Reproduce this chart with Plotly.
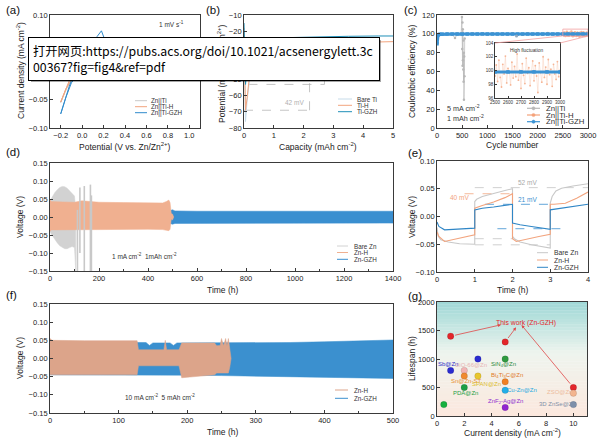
import plotly.graph_objects as go

W, H = 605, 444
FONT = "Liberation Sans, Arial, sans-serif"


def px(x):
    return x / W


def py(y):
    return 1 - y / H


# ---------------- (a) CV ----------------
a_pot = [0.6, 0.3, 0.1, 0.0, -0.05, -0.1, -0.15, -0.2, -0.16, -0.12, -0.08, -0.04,
         0.0, 0.05, 0.1, 0.14, 0.18, 0.22, 0.26, 0.3, 0.4, 0.6]
a_cur_ti = [0.0, 0.0, -0.001, -0.002, -0.006, -0.016, -0.032, -0.055, -0.036, -0.018, -0.004, 0.008,
            0.018, 0.028, 0.038, 0.045, 0.048, 0.036, 0.014, 0.003, 0.0, 0.0]
a_cur_h = [0.0, 0.0, -0.001, -0.002, -0.006, -0.015, -0.030, -0.054, -0.034, -0.016, -0.003, 0.009,
           0.020, 0.031, 0.041, 0.050, 0.054, 0.040, 0.015, 0.003, 0.0, 0.0]
a_cur_gzh = [0.0, 0.0, -0.001, -0.003, -0.008, -0.020, -0.045, -0.075, -0.050, -0.026, -0.007, 0.010,
             0.024, 0.038, 0.050, 0.062, 0.072, 0.052, 0.018, 0.004, 0.0, 0.0]

# ---------------- (b) nucleation ----------------
b_cap_ti = [0, 0.02, 0.05, 0.1, 0.2, 0.4, 0.8, 1.5, 2.5, 3.5]
b_pot_ti = [-20, -60, -76, -64, -48, -38, -33, -31, -30, -30]
b_cap = [0, 0.02, 0.05, 0.1, 0.2, 0.4, 0.8, 1.5, 2.5, 3.5, 4.5, 5.0]
b_pot_h = [-18, -50, -69, -62, -45, -33, -29, -28, -27.5, -27, -26.8, -26.5]
b_pot_gzh = [-15, -40, -53, -45, -33, -27, -25, -24, -23.5, -23.2, -23, -23]
b_dash_x = [[0, 2.2], [2.2, 2.2], [0.15, 2.7], [2.7, 2.7]]
b_dash_y = [[-69, -69], [-69, -27], [-53, -53], [-53, -23]]

# ---------------- (c) coulombic efficiency ----------------
c_ti_cyc = [1, 50, 100, 150, 200, 250, 300, 358, 400, 450, 480, 495, 500, 505, 508, 512,
            515, 518, 522, 525, 528, 532, 535, 540, 545, 550]
c_ti_ce = [96.0, 99.0, 99.3, 99.4, 99.5, 99.3, 99.4, 95.6, 99.2, 99.0, 100.5, 118, 84, 112, 66, 105,
           72, 101, 62, 93, 49, 80, 30, 76, 55, 95]
c_h_cyc = [1, 100, 200, 300, 400, 500, 600, 700, 800, 900, 1000, 1100, 1200, 1300, 1400, 1500,
           1600, 1700, 1800, 1900, 2000, 2100, 2200, 2300, 2400] + list(range(2500, 3001, 10))
c_h_ce = [97.5, 99.6, 100.1, 99.4, 100.3, 99.8, 99.5, 100.4, 99.7, 100.2, 99.3, 100.6, 99.6, 100.1,
          99.2, 100.5, 99.8, 99.1, 100.7, 99.4, 100.3, 99.0, 100.8, 99.5, 100.2,
          99.2, 100.8, 98.4, 101.5, 99.0, 97.6, 100.9, 99.5, 102.1, 98.2, 100.3, 99.8, 97.9,
          101.2, 98.9, 100.6, 99.1, 102.4, 98.6, 100.0, 97.4, 101.0, 99.3, 98.1, 101.8, 99.6,
          100.4, 97.8, 99.9, 101.4, 98.5, 100.7, 99.2, 96.8, 101.1, 99.7, 98.3, 102.0, 99.0,
          100.5, 98.0, 101.6, 99.4, 100.2, 97.7, 100.9, 99.5, 98.7, 101.3, 99.1, 100.0]
c_gzh_cyc = [1, 20, 50, 100, 200, 300, 400, 500, 600, 700, 800, 900, 1000, 1100, 1200, 1300,
             1400, 1500, 1600, 1700, 1800, 1900, 2000, 2100, 2200, 2300, 2400, 2500,
             2600, 2700, 2800, 2900, 3000]
c_gzh_ce = [89.5, 98.6, 99.5, 99.7, 99.8, 99.8, 99.8, 99.7, 99.8, 99.8, 99.8, 99.9, 99.8, 99.8,
            99.8, 99.8, 99.8, 99.8, 99.8, 99.8, 99.8, 99.8, 99.8, 99.8, 99.8, 99.8, 99.8,
            99.8, 99.8, 99.8, 99.8, 99.8, 99.8]
c_out_cyc = [1580]   # lone low point of Zn||Ti-GZH
c_out_ce = [97.7]

# ---------------- (d) 1 mA cm-2 symmetric cells ----------------
d_bare_t = [0, 10, 20, 30, 40, 50, 60, 70, 80, 90, 100, 105]
d_bare_up = [0.045, 0.058, 0.068, 0.076, 0.082, 0.085, 0.084, 0.080, 0.072, 0.064, 0.058, 0.02]
d_bare_lo = [-0.042, -0.052, -0.062, -0.072, -0.080, -0.085, -0.088, -0.088, -0.085, -0.082, -0.085, -0.15]
d_spike_t = [112, 122, 140, 165, 169]
d_spike_up = [0.02, 0.082, 0.086, 0.09, 0.06]
d_spike_lo = [-0.15, -0.10, -0.15, -0.15, -0.15]
d_h_t = [0, 5, 50, 100, 130, 150, 200, 300, 400, 460, 475, 485, 490, 495, 500, 505]
d_h_up = [0.048, 0.043, 0.042, 0.041, 0.045, 0.044, 0.041, 0.040, 0.039, 0.039, 0.043, 0.047, 0.040, 0.010, 0.008, 0.0]
d_h_lo = [-0.040, -0.036, -0.035, -0.034, -0.036, -0.035, -0.034, -0.034, -0.034, -0.035, -0.037, -0.038, -0.034, -0.006, -0.008, 0.0]
d_gzh_t = [0, 200, 400, 490, 500, 510, 600, 800, 1000, 1200, 1400]
d_gzh_up = [0.018, 0.017, 0.017, 0.018, 0.020, 0.017, 0.016, 0.016, 0.016, 0.016, 0.016]
d_gzh_lo = [-0.018, -0.017, -0.017, -0.018, -0.020, -0.018, -0.017, -0.017, -0.017, -0.017, -0.017]

# ---------------- (e) zoomed voltage profiles ----------------
e_bare_t = [0, 0.03, 0.1, 0.3, 0.6, 1.0, 1.0, 1.05, 1.2, 1.5, 1.8, 2.0, 2.0, 2.05, 2.2, 2.5,
            2.8, 3.0, 3.0, 3.05, 3.15, 3.3, 3.6, 4.0]
e_bare_v = [-0.02, -0.035, -0.042, -0.046, -0.049, -0.050, 0.027, 0.031, 0.036, 0.042, 0.047, 0.050,
            -0.036, -0.040, -0.046, -0.051, -0.055, -0.057, 0.024, 0.036, 0.046, 0.051, 0.055, 0.059]
e_h_t = [0, 0.05, 0.2, 0.5, 0.8, 1.0, 1.0, 1.2, 1.5, 1.8, 2.0, 2.0, 2.1, 2.4, 2.7, 3.0, 3.0, 3.1,
         3.4, 3.7, 4.0]
e_h_v = [-0.028, -0.036, -0.045, -0.040, -0.035, -0.033, 0.015, 0.020, 0.026, 0.034, 0.041, -0.040,
         -0.045, -0.040, -0.036, -0.032, 0.022, 0.022, 0.024, 0.033, 0.044]
e_gzh_t = [0, 0.05, 0.2, 0.5, 0.8, 1.0, 1.0, 1.2, 1.5, 1.8, 2.0, 2.0, 2.2, 2.5, 2.8, 3.0, 3.0, 3.3,
           3.6, 4.0]
e_gzh_v = [-0.010, -0.018, -0.024, -0.023, -0.022, -0.021, 0.012, 0.015, 0.017, 0.020, 0.022, -0.012,
           -0.015, -0.018, -0.021, -0.023, 0.012, 0.015, 0.018, 0.022]
e_dash_x0 = [1.0, 0.73, 1.27, 1.0, 1.0, 1.6]
e_dash_x1 = [4.0, 2.0, 3.0, 2.0, 3.0, 3.5]
e_dash_y = [0.052, 0.041, 0.022, -0.040, -0.051, -0.022]

# ---------------- (f) 10 mA cm-2 ----------------
f_h_t = [0, 3, 50, 100, 127, 129, 150, 166, 168, 170, 188, 192, 200, 220, 240, 243, 248, 250,
         253, 256, 258, 260, 262, 264]
f_h_up = [0.055, 0.050, 0.049, 0.049, 0.049, 0.024, 0.024, 0.024, 0.050, 0.024, 0.024, 0.043,
          0.043, 0.043, 0.043, 0.035, 0.036, 0.055, 0.035, 0.055, 0.035, 0.055, 0.020, 0.0]
f_h_lo = [-0.045, -0.045, -0.045, -0.045, -0.045, -0.020, -0.020, -0.020, -0.020, -0.020, -0.020,
          -0.053, -0.050, -0.048, -0.045, -0.040, -0.040, -0.040, -0.040, -0.040, -0.040, -0.040,
          -0.025, 0.0]
f_gzh_t = [0, 50, 100, 128, 140, 145, 150, 175, 180, 185, 200, 250, 300, 350, 400, 450, 500]
f_gzh_up = [0.045, 0.045, 0.045, 0.044, 0.044, 0.036, 0.043, 0.043, 0.036, 0.043, 0.043, 0.043,
            0.043, 0.044, 0.046, 0.049, 0.051]
f_gzh_lo = [-0.045, -0.045, -0.045, -0.045, -0.046, -0.046, -0.046, -0.046, -0.046, -0.046, -0.046,
            -0.047, -0.048, -0.050, -0.052, -0.053, -0.055]

# ---------------- (g) comparison ----------------
g_cd = [1, 5, 10, 1, 3, 2, 2, 3, 2, 0.5, 5, 5, 5, 5, 10, 10]
g_life = [1400, 1300, 500, 800, 1000, 800, 700, 700, 500, 200, 1000, 600, 450, 150, 400, 200]
g_color = ['#e3262b', '#e3262b', '#e3262b', '#2b2bd0', '#2b2bd0', '#f2b4b4', '#f08a30', '#e8c62e',
           '#1e9e44', '#16b040', '#2f9a40', '#f07f22', '#22aee8', '#9024d0', '#f3b48e', '#7c8fab']
g_lab = ['Sb@Zn', 'UiO-66@Zn', 'Sn@Zn-ST', 'SPAN@Zn', 'PDA@Zn', 'SiN<sub>4</sub>@Zn',
         'Bi<sub>4</sub>Ti<sub>3</sub>C@Zn', 'Cu-Zn@Zn', 'ZnF<sub>2</sub>-Ag@Zn', 'ZSO@Zn', '3D ZnSe@Zn']
g_lab_x = [0.8, 2.5, 2.1, 3.6, 2.1, 4.9, 5.1, 6.2, 5.0, 9.0, 8.8]
g_lab_y = [905, 895, 610, 560, 395, 895, 715, 455, 260, 420, 215]
g_lab_c = ['#3030c8', '#e8b4b4', '#e89030', '#dcbc2c', '#1e9e44', '#2f8a40', '#e07a28', '#1ea8e0',
           '#9030d0', '#eebc9c', '#8090a8']
g_arrow_head_x = [4.7, 5.8, 6.2]
g_arrow_head_y = [1600, 1555, 1595]

GRAY, ORANGE, BLUE = '#c9c9c9', '#f2a47e', '#2f8bcc'

fig = go.Figure()


def axis(**kw):
    base = dict(showline=True, mirror=True, linecolor='#3a3a3a', linewidth=0.8,
                ticks='inside', ticklen=3, tickwidth=0.8, tickcolor='#3a3a3a',
                tickfont=dict(size=7.5, color='#222', family=FONT), showgrid=False,
                zeroline=False)
    base.update(kw)
    return base


def line(x, y, color, ax, width=1.0, dash=None, mode='lines', marker=None, opacity=1.0):
    fig.add_trace(go.Scatter(x=x, y=y, mode=mode, line=dict(color=color, width=width, dash=dash),
                             marker=marker, xaxis='x' + ax, yaxis='y' + ax, showlegend=False,
                             opacity=opacity, hoverinfo='skip'))


def band(t, up, lo, color, ax):
    fig.add_trace(go.Scatter(x=t + t[::-1], y=up + lo[::-1], fill='toself', fillcolor=color,
                             mode='lines', line=dict(color=color, width=0.5), xaxis='x' + ax,
                             yaxis='y' + ax, showlegend=False, hoverinfo='skip'))


# (a)
line(a_pot, a_cur_ti, GRAY, '', 1.0)
line(a_pot, a_cur_h, ORANGE, '', 1.0)
line(a_pot, a_cur_gzh, BLUE, '', 1.0)

# (b)
for xs, ys in zip(b_dash_x, b_dash_y):
    line(xs, ys, '#b5b5b5', '2', 0.8, dash='dash')
line(b_cap_ti, b_pot_ti, '#c6dbe9', '2', 1.0)
line(b_cap, b_pot_h, ORANGE, '2', 1.0)
line(b_cap, b_pot_gzh, '#1f8fb8', '2', 1.0)

# (c) main + inset
for ax in ['3', '4']:
    small = ax == '4'
    line(c_ti_cyc, c_ti_ce, '#b8b8b8', ax, 0.7, mode='lines+markers',
         marker=dict(size=2.5, color='#b8b8b8'))
    line(c_h_cyc, c_h_ce, '#f4a27a', ax, 0.3, mode='lines+markers',
         marker=dict(size=1.8 if small else 2.5, color='#f4a27a'), opacity=0.8)
    line(c_gzh_cyc, c_gzh_ce, '#3b93d4', ax, 3.0 if small else 3.2, mode='lines+markers',
         marker=dict(size=3.5, color='#3b93d4', symbol='square'))
    line(c_out_cyc, c_out_ce, '#8fa8c0', ax, mode='markers', marker=dict(size=3, color='#8fa8c0'))

# (d)
band(d_bare_t, d_bare_up, d_bare_lo, '#d2d2d2', '5')
band(d_gzh_t, d_gzh_up, d_gzh_lo, '#3a8fd0', '5')
band(d_h_t, d_h_up, d_h_lo, '#f0b090', '5')
spx, spy = [], []
for t, u, l in zip(d_spike_t, d_spike_up, d_spike_lo):
    spx += [t, t, None]
    spy += [u, l, None]
fig.add_trace(go.Scatter(x=spx, y=spy, mode='lines', line=dict(color='#c8c8c8', width=1.6),
                         xaxis='x5', yaxis='y5', showlegend=False, hoverinfo='skip'))

# (e)
e_dash_c = ['#c4c4c4', '#f2a47e', '#3b8fcf', '#c4c4c4', '#c4c4c4', '#3b8fcf']
for x0, x1, y, c in zip(e_dash_x0, e_dash_x1, e_dash_y, e_dash_c):
    line([x0, x1], [y, y], c, '6', 0.8, dash='dash')
line(e_bare_t, e_bare_v, '#c8c8c8', '6', 1.1)
line(e_h_t, e_h_v, '#f2a47e', '6', 1.1)
line(e_gzh_t, e_gzh_v, '#2f86c6', '6', 1.1)

# (f)
band(f_gzh_t, f_gzh_up, f_gzh_lo, '#3b90cf', '7')
band(f_h_t, f_h_up, f_h_lo, '#dca48a', '7')

# (g)
fig.add_trace(go.Scatter(x=g_cd, y=g_life, mode='markers', xaxis='x8', yaxis='y8',
                         marker=dict(size=6.5, color=g_color, line=dict(width=0.4, color='rgba(0,0,0,0.25)')),
                         showlegend=False, hoverinfo='skip'))

fig.update_layout(
    width=W, height=H, margin=dict(l=0, r=0, t=0, b=0),
    paper_bgcolor='white', plot_bgcolor='white', template='none',
    font=dict(family=FONT, color='#222'),
    xaxis=axis(domain=[px(50), px(200)], range=[-0.3, 1.1], tick0=-0.2, dtick=0.2, tickformat='.1f',
               anchor='y'),
    yaxis=axis(domain=[py(128), py(15)], range=[-0.1, 0.1], dtick=0.05, tickformat='.2f', anchor='x'),
    xaxis2=axis(domain=[px(244), px(393)], range=[0, 5], dtick=1, anchor='y2'),
    yaxis2=axis(domain=[py(128), py(15)], range=[-80, -10], dtick=10, anchor='x2'),
    xaxis3=axis(domain=[px(437), px(588)], range=[0, 3000], dtick=500, anchor='y3'),
    yaxis3=axis(domain=[py(128), py(15)], range=[0, 120], dtick=20, anchor='x3'),
    xaxis4=axis(domain=[px(495), px(560)], range=[2500, 3000], dtick=100, anchor='y4', ticklen=2,
                tickfont=dict(size=4.5, color='#333', family=FONT)),
    yaxis4=axis(domain=[py(98), py(43)], range=[96, 104], dtick=2, anchor='x4', ticklen=2,
                tickfont=dict(size=4.5, color='#333', family=FONT)),
    xaxis5=axis(domain=[px(50), px(393)], range=[0, 1400], dtick=200, anchor='y5',
                minor=dict(ticks='inside', ticklen=2, dtick=100, tickcolor='#3a3a3a')),
    yaxis5=axis(domain=[py(271), py(163)], range=[-0.15, 0.15], dtick=0.05, tickformat='.2f',
                anchor='x5'),
    xaxis6=axis(domain=[px(437), px(588)], range=[0, 4], dtick=1, anchor='y6'),
    yaxis6=axis(domain=[py(272), py(161)], range=[-0.1, 0.1], dtick=0.05, tickformat='.2f',
                anchor='x6'),
    xaxis7=axis(domain=[px(50), px(393)], range=[0, 500], dtick=100, anchor='y7',
                minor=dict(ticks='inside', ticklen=2, dtick=50, tickcolor='#3a3a3a')),
    yaxis7=axis(domain=[py(413), py(304)], range=[-0.15, 0.15], dtick=0.05, tickformat='.2f',
                anchor='x7'),
    xaxis8=axis(domain=[px(437), px(587)], range=[0, 11], dtick=2, anchor='y8'),
    yaxis8=axis(domain=[py(416), py(302)], range=[0, 2000], dtick=500, anchor='x8'),
)

shapes, annotations = [], []


def note(x, y, text, size=6.5, color='#333', xref='paper', yref='paper', xanchor='center', **kw):
    fam = kw.pop('family', FONT)
    annotations.append(dict(x=x, y=y, xref=xref, yref=yref, text=text, showarrow=False,
                            xanchor=xanchor, yanchor='middle',
                            font=dict(size=size, color=color, family=fam), **kw))


def legend(names, colors, key_x0, key_x1, text_x, ys, size=6.3, width=1.0, markers=False):
    for n, c, y in zip(names, colors, ys):
        shapes.append(dict(type='line', xref='paper', yref='paper', x0=px(key_x0), x1=px(key_x1),
                           y0=py(y), y1=py(y), line=dict(color=c, width=width)))
        if markers:
            xm = (key_x0 + key_x1) / 2
            shapes.append(dict(type='circle', xref='paper', yref='paper', x0=px(xm - 1.6),
                               x1=px(xm + 1.6), y0=py(y + 1.6), y1=py(y - 1.6),
                               fillcolor=c, line=dict(color=c, width=0.5)))
        note(px(text_x), py(y), n, size=size, xanchor='left')


# gradient background of (g)
top, mid, bot = (158, 216, 214), (238, 244, 238), (252, 232, 222)
nb = 40
for i in range(nb):
    f = (i + 0.5) / nb
    if f > 0.55:
        k = (f - 0.55) / 0.45
        c = [round(mid[j] + (top[j] - mid[j]) * k) for j in range(3)]
    else:
        k = f / 0.55
        c = [round(bot[j] + (mid[j] - bot[j]) * k) for j in range(3)]
    shapes.append(dict(type='rect', xref='x8 domain', yref='y8 domain', x0=0, x1=1,
                       y0=i / nb, y1=(i + 1) / nb + 0.002, layer='below', line=dict(width=0),
                       fillcolor='rgb(%d,%d,%d)' % tuple(c)))

# zoom box in (c) and connectors to inset
shapes.append(dict(type='rect', xref='x3', yref='y3', x0=2500, x1=3000, y0=97.5, y1=105,
                   line=dict(color='#f3a0a0', width=0.8)))
shapes.append(dict(type='line', xref='paper', yref='paper', x0=px(562), y0=py(36),
                   x1=px(495), y1=py(43), line=dict(color='#f3a0a0', width=0.8)))
shapes.append(dict(type='line', xref='paper', yref='paper', x0=px(588), y0=py(36),
                   x1=px(560), y1=py(43), line=dict(color='#f3a0a0', width=0.8)))

# axis titles
for text, x, y, rot in [
        ('Potential (V vs. Zn/Zn<sup>2+</sup>)', 125, 146, 0),
        ('Capacity (mAh cm<sup>-2</sup>)', 318, 146, 0),
        ('Cycle number', 512, 145, 0),
        ('Time (h)', 222, 290, 0),
        ('Time (h)', 512, 290, 0),
        ('Time (h)', 222, 432, 0),
        ('Current density (mA cm<sup>-2</sup>)', 512, 432, 0),
        ('Current density (mA cm<sup>-2</sup>)', 20, 71, -90),
        ('Potential (mV vs. Zn/Zn<sup>2+</sup>)', 222, 74, -90),
        ('Coulombic efficiency (%)', 412, 71, -90),
        ('Voltage (V)', 20, 217, -90),
        ('Voltage (V)', 412, 217, -90),
        ('Voltage (V)', 20, 358, -90),
        ('Lifespan (h)', 412, 359, -90)]:
    note(px(x), py(y), text, 8.5, '#222', textangle=rot)

# legends
legend(['Zn||Ti', 'Zn||Ti-H', 'Zn||Ti-GZH'], [GRAY, ORANGE, BLUE], 135, 147, 149, [100.7, 106.7, 112.7])
legend(['Bare Ti', 'Ti-H', 'Ti-GZH'], ['#c6dbe9', ORANGE, '#1f8fb8'], 338, 352, 355, [99, 105.3, 111.7])
legend(['Zn||Ti', 'Zn||Ti-H', 'Zn||Ti-GZH'], ['#b8b8b8', '#f4a27a', '#3b93d4'], 527, 540, 543.5,
       [108.3, 115, 121.7], size=7.8, width=1.2, markers=True)
legend(['Bare Zn', 'Zn-H', 'Zn-GZH'], ['#d2d2d2', '#f0b090', '#3a8fd0'], 337, 348, 352.5,
       [246, 252.5, 259.3], size=6.3)
legend(['Bare Zn', 'Zn-H', 'Zn-GZH'], ['#c8c8c8', '#f2a47e', '#2f86c6'], 537, 548, 551.5,
       [252.7, 260, 267.3], size=6.8)
legend(['Zn-H', 'Zn-GZH'], ['#dca48a', '#3b90cf'], 335, 348, 351.5, [390, 398.3], size=6.3)

# in-plot texts
note(0.83, 0.084, '1 mV s<sup>-1</sup>', 6.5, xref='x', yref='y')
note(1.71, -64.5, '42 mV', 6.5, '#b0b0b0', xref='x2', yref='y2')
note(px(445), py(108), '5 mA cm<sup>-2</sup>', 7.2, xanchor='left')
note(px(445), py(117.5), '1 mAh cm<sup>-2</sup>', 7.2, xanchor='left')
note(2740, 102.9, 'High fluctuation', 4.8, '#333', xref='x4', yref='y4')
note(384, -0.108, '1 mA cm<sup>-2</sup>  1mAh cm<sup>-2</sup>', 6.5, xref='x5', yref='y5')
note(2.4, 0.061, '52 mV', 6.5, '#a8a8a8', xref='x6', yref='y6')
note(0.6, 0.034, '40 mV', 6.5, '#f2a47e', xref='x6', yref='y6')
note(2.4, 0.030, '21 mV', 6.5, '#3b8fcf', xref='x6', yref='y6')
note(160, -0.106, '10 mA cm<sup>-2</sup>  5 mAh cm<sup>-2</sup>', 6.5, xref='x7', yref='y7')
for t, x, y, c in zip(g_lab, g_lab_x, g_lab_y, g_lab_c):
    note(x, y, t, 6.0, c, xref='x8', yref='y8')
note(6.5, 1640, 'This work (Zn-GZH)', 6.8, '#e3262b', xref='x8', yref='y8')
for i, (hx, hy) in enumerate(zip(g_arrow_head_x, g_arrow_head_y)):
    annotations.append(dict(x=hx, y=hy, ax=g_cd[i], ay=g_life[i], xref='x8', yref='y8',
                            axref='x8', ayref='y8', showarrow=True, arrowhead=2, arrowsize=0.8,
                            arrowwidth=0.8, arrowcolor='#e04848', text='', standoff=0, startstandoff=3))

# panel letters
for lab, x, y in [('(a)', 4, 10), ('(b)', 204, 10), ('(c)', 402, 10), ('(d)', 4, 152),
                  ('(e)', 406, 153), ('(f)', 4, 295), ('(g)', 406, 296)]:
    note(px(x), py(y), lab, 11.5, '#111', xanchor='left')

# browser banner overlay (drawn last so it covers everything beneath it)
annotations.append(dict(x=px(31), y=py(40), xref='paper', yref='paper', xanchor='left',
                        yanchor='top', text=' ', showarrow=False, width=350, height=42,
                        borderpad=0, borderwidth=0, bgcolor='rgba(0,0,0,0.35)'))
annotations.append(dict(x=px(28), y=py(37), xref='paper', yref='paper', xanchor='left',
                        yanchor='top', showarrow=False, align='left', valign='middle',
                        width=342, height=34, borderpad=4, borderwidth=1, bordercolor='#000',
                        bgcolor='white',
                        text='打开网页:https://pubs.acs.org/doi/10.1021/acsenergylett.3c<br>00367?fig=fig4&ref=pdf',
                        font=dict(size=12.3, color='#000', family='Noto Sans CJK SC')))

fig.update_layout(shapes=shapes, annotations=annotations)
# the page body has a default 8px margin; drop it so the figure sits at the window origin
fig.write_html("out.html", config={'displayModeBar': False},
               post_script="document.body.style.margin='0';")
